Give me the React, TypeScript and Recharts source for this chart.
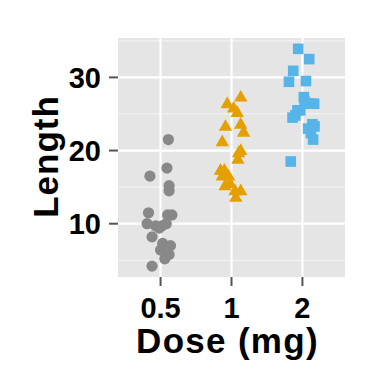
import React from 'react';
import { ScatterChart, Scatter, XAxis, YAxis, CartesianGrid, ReferenceLine } from 'recharts';

const doseLabels = ['0.5', '1', '2'];
const doseTicks = [1, 2, 3];
const yTicks = [10, 20, 30];
const yMinor = [5, 15, 25, 35];

const len05 = [21.5, 17.6, 16.5, 15.2, 14.5, 11.5, 11.2, 11.2, 10.0, 10.0, 9.7, 9.7, 9.4, 8.2, 7.3, 7.0, 6.4, 5.8, 5.2, 4.2];
const jit05 = [0.11, 0.09, -0.15, 0.12, 0.12, -0.17, 0.16, 0.10, -0.19, 0.08, -0.07, 0.02, -0.02, -0.12, 0.03, 0.14, 0.0, 0.12, 0.06, -0.12];

const len1 = [27.3, 26.4, 25.8, 25.2, 23.6, 23.3, 22.5, 21.2, 20.0, 19.7, 18.8, 17.3, 17.3, 16.5, 16.5, 15.5, 15.2, 14.5, 14.5, 13.6];
const jit1 = [0.13, -0.06, 0.03, 0.08, 0.13, -0.085, 0.17, -0.13, 0.13, 0.10, 0.09, -0.155, -0.10, -0.04, -0.13, -0.02, -0.09, 0.13, 0.05, 0.06];

const len2 = [33.9, 32.5, 30.9, 29.5, 29.4, 27.3, 26.7, 26.4, 26.4, 26.4, 25.5, 25.5, 24.8, 24.5, 23.6, 23.3, 23.0, 22.4, 21.5, 18.5];
const jit2 = [-0.06, 0.095, -0.13, 0.05, -0.19, 0.02, 0.03, 0.165, 0.12, 0.08, -0.07, -0.03, -0.10, -0.14, 0.14, 0.17, 0.08, 0.12, 0.15, -0.165];

const toPoints = (lens: number[], jit: number[], pos: number) =>
  lens.map((v, i) => ({ x: pos + jit[i], y: v }));

const data05 = toPoints(len05, jit05, 1);
const data1 = toPoints(len1, jit1, 2);
const data2 = toPoints(len2, jit2, 3);

const FONT = '"Liberation Sans", Arial, Helvetica, sans-serif';
const GRAY = '#888888';
const ORANGE = '#E69F00';
const BLUE = '#56B4E9';

const CircleShape = (p: any) => <circle cx={p.cx} cy={p.cy} r={5.6} fill={GRAY} />;
const TriShape = (p: any) => {
  const s = 7.2;
  return (
    <polygon
      points={`${p.cx},${p.cy - s} ${p.cx - s * 0.93},${p.cy + s * 0.62} ${p.cx + s * 0.93},${p.cy + s * 0.62}`}
      fill={ORANGE}
    />
  );
};
const SqShape = (p: any) => <rect x={p.cx - 5.3} y={p.cy - 5.3} width={10.6} height={10.6} fill={BLUE} />;

const YTitle = (props: any) => {
  const vb = props.viewBox || {};
  const cx = 45;
  const cy = vb.y + vb.height / 2 - 1;
  return (
    <text
      x={cx}
      y={cy}
      transform={`rotate(-90, ${cx}, ${cy})`}
      textAnchor="middle"
      dominantBaseline="central"
      fontFamily={FONT}
      fontWeight="bold"
      fontSize={35}
      letterSpacing={1}
      fill="#000"
    >
      Length
    </text>
  );
};

const XTitle = (props: any) => {
  const vb = props.viewBox || {};
  return (
    <text
      x={vb.x + vb.width / 2 - 4}
      y={353}
      textAnchor="middle"
      fontFamily={FONT}
      fontWeight="bold"
      fontSize={35}
      letterSpacing={1.3}
      fill="#000"
    >
      Dose (mg)
    </text>
  );
};

export default function App() {
  return (
    <div style={{ position: 'absolute', left: 0, top: 0, width: 384, height: 384, background: '#fff' }}>
      <ScatterChart width={384} height={384} margin={{ top: 38, right: 39, bottom: 47, left: 0 }}>
        <CartesianGrid fill="#E5E5E5" stroke="none" horizontal={false} vertical={false} />
        {yMinor.map((v) => (
          <ReferenceLine key={'m' + v} y={v} stroke="#F2F2F2" strokeWidth={1.2} />
        ))}
        {yTicks.map((v) => (
          <ReferenceLine key={'M' + v} y={v} stroke="#FFFFFF" strokeWidth={2.2} />
        ))}
        {doseTicks.map((v) => (
          <ReferenceLine key={'X' + v} x={v} stroke="#FFFFFF" strokeWidth={2.2} />
        ))}
        <XAxis
          type="number"
          dataKey="x"
          domain={[0.4, 3.6]}
          ticks={doseTicks}
          tickFormatter={(v: number) => doseLabels[v - 1]}
          axisLine={false}
          tickLine={{ stroke: '#555', strokeWidth: 2 }}
          tickSize={9}
          tickMargin={11}
          height={60}
          interval={0}
          tick={{ fill: '#000', fontSize: 29, fontWeight: 'bold', fontFamily: FONT }}
          label={{ content: XTitle }}
        />
        <YAxis
          type="number"
          dataKey="y"
          domain={[2.715, 35.385]}
          ticks={yTicks}
          axisLine={false}
          tickLine={{ stroke: '#555', strokeWidth: 2 }}
          tickSize={9}
          tickMargin={8}
          width={118}
          interval={0}
          tick={{ fill: '#000', fontSize: 29, fontWeight: 'bold', fontFamily: FONT }}
          label={{ content: YTitle }}
        />
        <Scatter data={data05} shape={CircleShape} isAnimationActive={false} />
        <Scatter data={data1} shape={TriShape} isAnimationActive={false} />
        <Scatter data={data2} shape={SqShape} isAnimationActive={false} />
      </ScatterChart>
    </div>
  );
}
